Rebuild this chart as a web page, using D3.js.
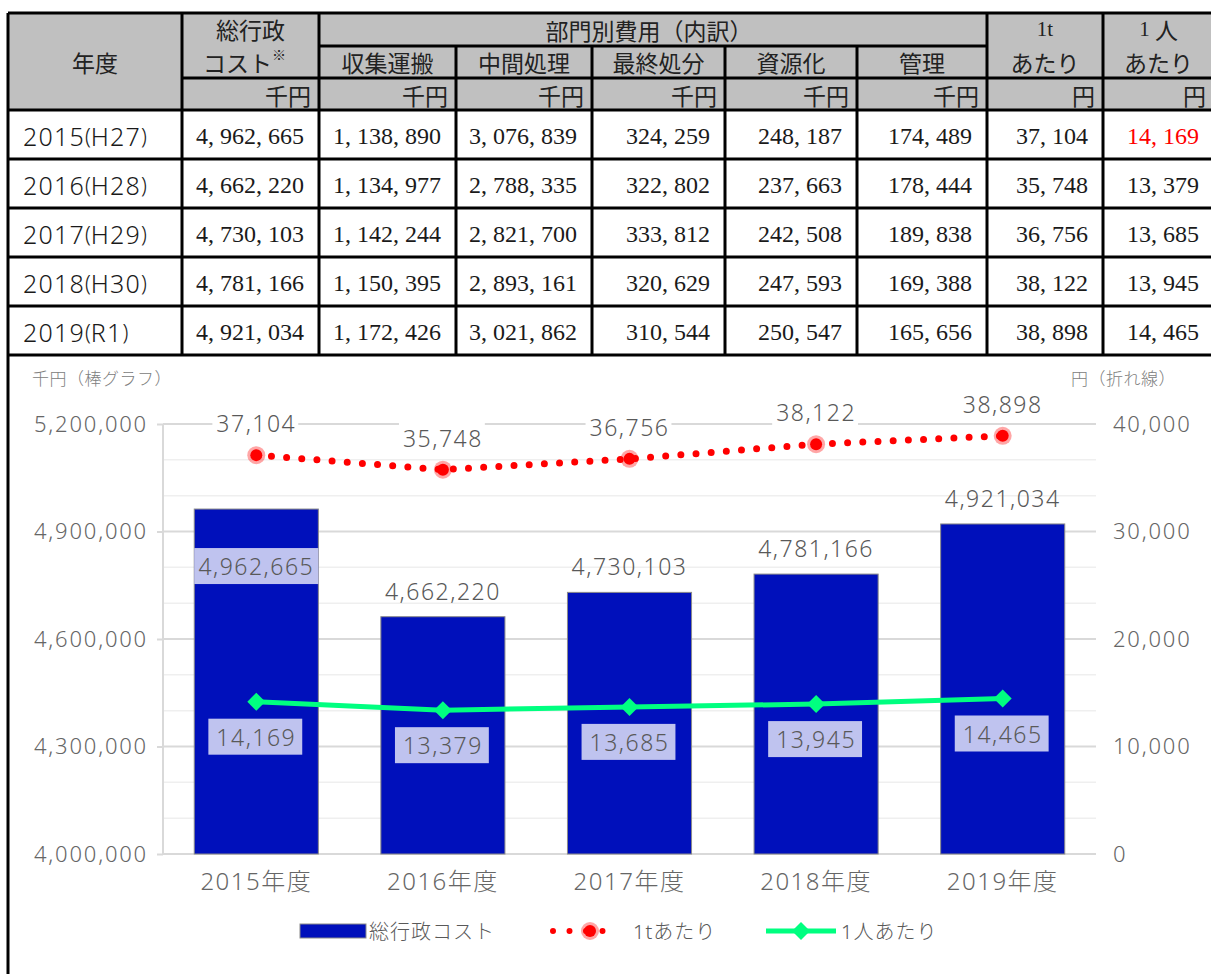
<!DOCTYPE html>
<html lang="ja">
  <head>
    <meta charset="utf-8" />
    <title>総行政コスト</title>
    <script src="https://cdnjs.cloudflare.com/ajax/libs/d3/7.8.5/d3.min.js"></script>
    <style type="text/css">
      body { margin: 0; background: #fff; }
      svg { display: block; }
      .hd { font-family: "Noto Sans CJK JP", sans-serif; font-size: 23px; fill: #222; }
      .yr { font-family: "Noto Sans", "Noto Sans CJK JP", sans-serif; font-size: 25px; fill: #1a1a1a; letter-spacing: 1.2px; font-weight: 300; }
      .num { font-family: "Liberation Serif", serif; font-size: 24px; fill: #1a1a1a; }
      .ch { font-family: "Noto Sans", "Noto Sans CJK JP", sans-serif; fill: #595959; letter-spacing: 1.5px; font-weight: 300; }
      .axis text { font-family: "Noto Sans", sans-serif; font-size: 22px; fill: #666; letter-spacing: 1.8px; font-weight: 300; }
      .axis .domain { display: none; }
    </style>
  </head>

  <body>
    <div id="chart"></div>

    <script>
      // Data
      const yearNames = ['2015', '2016', '2017', '2018', '2019'];
      const eraNames = ['H27', 'H28', 'H29', 'H30', 'R1'];
      const categories = ['2015年度', '2016年度', '2017年度', '2018年度', '2019年度'];
      const totalCost = [4962665, 4662220, 4730103, 4781166, 4921034];
      const collection = [1138890, 1134977, 1142244, 1150395, 1172426];
      const intermediate = [3076839, 2788335, 2821700, 2893161, 3021862];
      const finalDisposal = [324259, 322802, 333812, 320629, 310544];
      const recycling = [248187, 237663, 242508, 247593, 250547];
      const management = [174489, 178444, 189838, 169388, 165656];
      const perTon = [37104, 35748, 36756, 38122, 38898];
      const perCapita = [14169, 13379, 13685, 13945, 14465];
      const leftTicks = [4000000, 4300000, 4600000, 4900000, 5200000];
      const rightTicks = [0, 10000, 20000, 30000, 40000];
      const subHeads = ['収集運搬', '中間処理', '最終処分', '資源化', '管理'];

      const W = 1211, H = 974;
      const svg = d3.select('#chart').append('svg')
        .attr('width', W)
        .attr('height', H);

      // ---------- Table ----------
      const colX = [8, 182, 319, 456, 592, 725, 857, 987, 1103, 1214];
      const headY = [13, 46, 78, 110];
      const rowH = 49;
      const tbl = svg.append('g');

      // header background
      tbl.append('rect')
        .attr('x', colX[0]).attr('y', headY[0])
        .attr('width', colX[9] - colX[0]).attr('height', headY[3] - headY[0])
        .attr('fill', '#c0c0c0');

      const line = (x1, y1, x2, y2) => tbl.append('line')
        .attr('x1', x1).attr('y1', y1).attr('x2', x2).attr('y2', y2)
        .attr('stroke', '#000').attr('stroke-width', 3);

      const tableBottom = headY[3] + rowH * yearNames.length;
      // verticals
      colX.forEach((x, i) => {
        if (i >= 3 && i <= 6) line(x, headY[1], x, tableBottom);
        else line(x, headY[0], x, tableBottom);
      });
      // horizontals
      line(colX[0], headY[0], colX[9], headY[0]);
      line(colX[2], headY[1], colX[7], headY[1]);
      line(colX[1], headY[2], colX[9], headY[2]);
      line(colX[0], headY[3], colX[9], headY[3]);
      yearNames.forEach((d, i) => line(colX[0], headY[3] + rowH * (i + 1), colX[9], headY[3] + rowH * (i + 1)));

      const txt = (cls, x, y, s, anchor) => tbl.append('text')
        .attr('class', cls).attr('x', x).attr('y', y)
        .attr('text-anchor', anchor || 'middle')
        .attr('dominant-baseline', 'central')
        .text(s);

      const mid = i => (colX[i] + colX[i + 1]) / 2;
      txt('hd', mid(0), 62, '年度');
      txt('hd', mid(1), 29, '総行政');
      const ct = txt('hd', mid(1) - 6, 62, 'コスト');
      ct.append('tspan').attr('font-size', 14).attr('dy', -8).text('※');
      txt('hd', (colX[2] + colX[7]) / 2 - 4, 30, '部門別費用（内訳）');
      subHeads.forEach((s, i) => txt('hd', mid(i + 2), 62, s));
      const t1 = txt('hd', mid(7), 29, '');
      t1.append('tspan').attr('font-family', 'Liberation Serif, serif').attr('font-size', 21).text('1t');
      txt('hd', mid(7), 62, 'あたり');
      const t2 = txt('hd', mid(8), 29, '');
      t2.append('tspan').attr('font-family', 'Liberation Serif, serif').attr('font-size', 21).text('1 ');
      t2.append('tspan').text('人');
      txt('hd', mid(8), 62, 'あたり');
      const units = ['千円', '千円', '千円', '千円', '千円', '千円', '円', '円'];
      units.forEach((u, i) => txt('hd', colX[i + 2] - 8, 95, u, 'end'));

      const fmtT = v => d3.format(',')(v).replace(/,/g, ', ');
      const cols = [totalCost, collection, intermediate, finalDisposal, recycling, management, perTon, perCapita];
      yearNames.forEach((y, r) => {
        const cy = headY[3] + rowH * r + rowH / 2 + 1;
        const yt = txt('yr', colX[0] + 15, cy, y, 'start');
        yt.append('tspan').attr('font-size', 21).style('letter-spacing', '0px').text('(');
        yt.append('tspan').text(eraNames[r]);
        yt.append('tspan').attr('font-size', 21).style('letter-spacing', '0px').text(')');
        cols.forEach((arr, c) => {
          const t = txt('num', colX[c + 2] - 15, cy, fmtT(arr[r]), 'end');
          if (c === 7 && r === 0) t.style('fill', '#ff0000');
        });
      });

      // ---------- Chart ----------
      // frame left border
      svg.append('line')
        .attr('x1', 8).attr('y1', tableBottom).attr('x2', 8).attr('y2', H)
        .attr('stroke', '#000').attr('stroke-width', 3);

      const plot = { left: 163, right: 1096, top: 424, bottom: 854 };
      const x = d3.scaleBand().domain(categories).range([plot.left, plot.right])
        .paddingInner(0.335).paddingOuter(0.1675);
      const yL = d3.scaleLinear().domain([4000000, 5200000]).range([plot.bottom, plot.top]);
      const yR = d3.scaleLinear().domain([0, 40000]).range([plot.bottom, plot.top]);
      const cx = d => x(d) + x.bandwidth() / 2;

      const g = svg.append('g');

      // gridlines
      g.selectAll('.minor')
        .data(d3.range(4000000, 5200001, 100000))
        .join('line')
        .attr('x1', plot.left).attr('x2', plot.right)
        .attr('y1', d => yL(d)).attr('y2', d => yL(d))
        .attr('stroke', d => leftTicks.includes(d) ? '#d9d9d9' : '#efefef')
        .attr('stroke-width', d => leftTicks.includes(d) ? 2 : 1.5);
      g.append('line')
        .attr('x1', plot.left).attr('x2', plot.left)
        .attr('y1', plot.top).attr('y2', plot.bottom)
        .attr('stroke', '#d9d9d9').attr('stroke-width', 2);

      // axes
      const axL = g.append('g').attr('class', 'axis')
        .attr('transform', `translate(${plot.left},0)`)
        .call(d3.axisLeft(yL).tickValues(leftTicks).tickSize(6).tickPadding(9).tickFormat(d3.format(',')));
      axL.selectAll('.tick line').attr('stroke', '#d9d9d9').attr('stroke-width', 2);

      g.append('g').attr('class', 'axis')
        .attr('transform', `translate(${plot.right},0)`)
        .call(d3.axisRight(yR).tickValues(rightTicks).tickSize(0).tickPadding(17).tickFormat(d3.format(',')));

      const axB = g.append('g').attr('class', 'axis')
        .attr('transform', `translate(0,${plot.bottom})`)
        .call(d3.axisBottom(x).tickSize(0).tickPadding(19));
      axB.selectAll('text').style('font-size', '24px').style('font-family', '"Noto Sans", "Noto Sans CJK JP", sans-serif').style('letter-spacing', '1.5px');

      // bars
      g.selectAll('.bar')
        .data(categories)
        .join('rect')
        .attr('x', d => x(d))
        .attr('width', x.bandwidth())
        .attr('y', (d, i) => yL(totalCost[i]))
        .attr('height', (d, i) => plot.bottom - yL(totalCost[i]))
        .attr('fill', '#0010bb')
        .attr('stroke', '#8a8a8a')
        .attr('stroke-width', 1);

      // bar labels
      const fmt = d3.format(',');
      categories.forEach((d, i) => {
        const top = yL(totalCost[i]);
        const inside = top - 25 < yR(perTon[i]) + 40;
        const ty = inside ? top + 57 : top - 26;
        const t = g.append('text').attr('class', 'ch')
          .attr('x', cx(d)).attr('y', ty)
          .attr('text-anchor', 'middle').attr('dominant-baseline', 'central')
          .style('font-size', '23px')
          .text(fmt(totalCost[i]));
        if (inside) {
          g.insert('rect', () => t.node())
            .attr('x', x(d)).attr('width', x.bandwidth())
            .attr('y', ty - 18).attr('height', 36)
            .attr('fill', '#bfc3ef');
        }
      });

      // per-ton dotted line
      const lineGen = d3.line().x((d, i) => cx(categories[i])).y(d => yR(d));
      g.append('path')
        .datum(perTon)
        .attr('d', lineGen)
        .attr('fill', 'none')
        .attr('stroke', '#ff0000')
        .attr('stroke-width', 7)
        .attr('stroke-linecap', 'round')
        .attr('stroke-dasharray', '0 15.2')
        .attr('stroke-dashoffset', -15.2);
      const redMarker = (sel, px, py) => {
        sel.append('circle').attr('cx', px).attr('cy', py).attr('r', 9).attr('fill', '#ff0000').attr('opacity', 0.35);
        sel.append('circle').attr('cx', px).attr('cy', py).attr('r', 6).attr('fill', '#ff0000');
      };
      perTon.forEach((v, i) => {
        const px = cx(categories[i]), py = yR(v);
        redMarker(g, px, py);
        const t = g.append('text').attr('class', 'ch')
          .attr('x', px).attr('y', py - 32)
          .attr('text-anchor', 'middle').attr('dominant-baseline', 'central')
          .style('font-size', '23px')
          .text(fmt(v));
        const b = t.node().getBBox();
        g.insert('rect', () => t.node())
          .attr('x', b.x - 4).attr('y', b.y).attr('width', b.width + 6).attr('height', b.height)
          .attr('fill', '#fff');
      });

      // per-capita green line
      g.append('path')
        .datum(perCapita)
        .attr('d', lineGen)
        .attr('fill', 'none')
        .attr('stroke', '#00ff80')
        .attr('stroke-width', 5);
      const diamond = (sel, px, py) => sel.append('path')
        .attr('d', `M${px},${py - 9}L${px + 9},${py}L${px},${py + 9}L${px - 9},${py}Z`)
        .attr('fill', '#00ff80');
      perCapita.forEach((v, i) => {
        const px = cx(categories[i]), py = yR(v);
        diamond(g, px, py);
        const t = g.append('text').attr('class', 'ch')
          .attr('x', px).attr('y', py + 35)
          .attr('text-anchor', 'middle').attr('dominant-baseline', 'central')
          .style('font-size', '23px')
          .text(fmt(v));
        const b = t.node().getBBox();
        g.insert('rect', () => t.node())
          .attr('x', b.x - 8).attr('y', py + 17).attr('width', b.width + 14).attr('height', 36)
          .attr('fill', '#bfc3ef');
      });

      // axis titles
      g.append('text').attr('class', 'ch')
        .attr('x', 32).attr('y', 378).attr('dominant-baseline', 'central')
        .style('font-size', '17px').style('fill', '#808080').style('letter-spacing', '0.5px')
        .text('千円（棒グラフ）');
      g.append('text').attr('class', 'ch')
        .attr('x', 1176).attr('y', 378).attr('dominant-baseline', 'central')
        .attr('text-anchor', 'end')
        .style('font-size', '17px').style('fill', '#808080').style('letter-spacing', '0.5px')
        .text('円（折れ線）');

      // legend
      const ly = 931;
      const lg = svg.append('g');
      lg.append('rect').attr('x', 300).attr('y', ly - 7).attr('width', 66).attr('height', 14)
        .attr('fill', '#0010bb').attr('stroke', '#8a8a8a').attr('stroke-width', 1);
      lg.append('text').attr('class', 'ch').attr('x', 369).attr('y', ly)
        .attr('dominant-baseline', 'central').style('font-size', '20px').style('letter-spacing', '1px')
        .text('総行政コスト');
      lg.append('line').attr('x1', 553).attr('x2', 619).attr('y1', ly).attr('y2', ly)
        .attr('stroke', '#ff0000').attr('stroke-width', 6).attr('stroke-linecap', 'round')
        .attr('stroke-dasharray', '0 16.5');
      redMarker(lg, 590, ly);
      lg.append('text').attr('class', 'ch').attr('x', 633).attr('y', ly)
        .attr('dominant-baseline', 'central').style('font-size', '20px').style('letter-spacing', '1px')
        .text('1tあたり');
      lg.append('line').attr('x1', 766).attr('x2', 836).attr('y1', ly).attr('y2', ly)
        .attr('stroke', '#00ff80').attr('stroke-width', 5);
      diamond(lg, 801, ly);
      lg.append('text').attr('class', 'ch').attr('x', 841).attr('y', ly)
        .attr('dominant-baseline', 'central').style('font-size', '20px').style('letter-spacing', '1px')
        .text('1人あたり');
    </script>
  </body>
</html>
